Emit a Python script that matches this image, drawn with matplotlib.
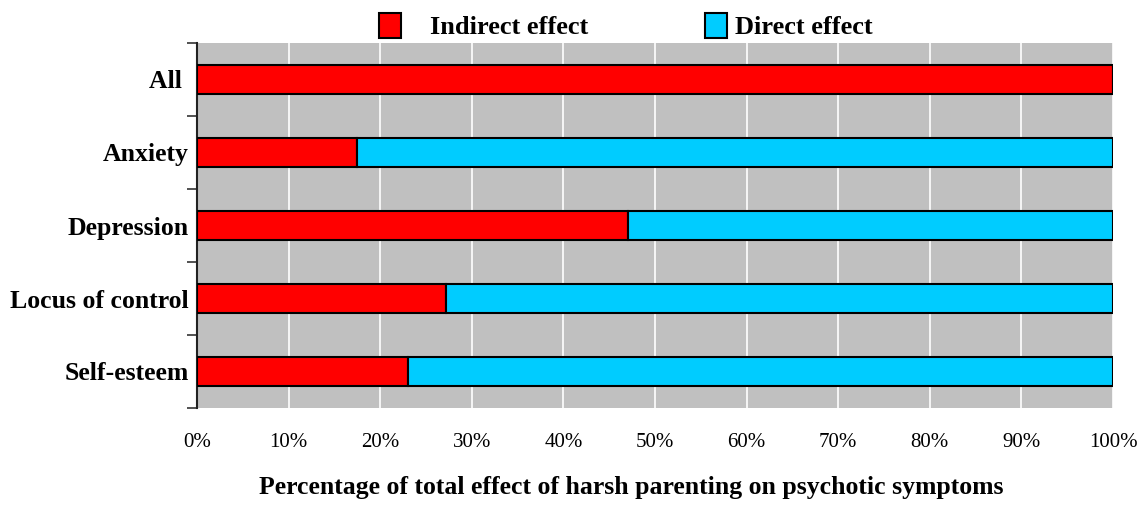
import numpy as np
import matplotlib.pyplot as plt
from matplotlib.patches import Rectangle
from matplotlib.ticker import FixedLocator

categories = ["All ", "Anxiety", "Depression", "Locus of control", "Self-esteem"]
indirect = [100, 17.5, 47, 27.2, 23]
direct = [0, 82.5, 53, 72.8, 77]
xticks = [0, 10, 20, 30, 40, 50, 60, 70, 80, 90, 100]
xticklabels = [f"{t}%" for t in xticks]

plt.rcParams['font.family'] = ['Liberation Serif', 'DejaVu Serif']

red = "#ff0000"
cyan = "#00ccff"

fig = plt.figure(figsize=(11.43, 5.05), dpi=100)
ax = fig.add_axes([197 / 1143, 1 - 408 / 505, 916 / 1143, 365 / 505])
ax.set_facecolor("#c0c0c0")

y = np.arange(len(categories))
ax.barh(y, indirect, height=0.39, color=red, edgecolor="black", linewidth=1.5, zorder=3)
ax.barh(y, direct, left=indirect, height=0.39, color=cyan, edgecolor="black",
        linewidth=1.5, zorder=3)

ax.set_xlim(0, 100)
ax.set_ylim(len(categories) - 0.5, -0.5)
ax.set_xticks(xticks)
ax.set_xticklabels(xticklabels, fontsize=15)
ax.tick_params(axis="x", length=0, pad=18)
ax.xaxis.grid(True, color="white", linewidth=1.2, zorder=0)

ax.yaxis.set_major_locator(FixedLocator(np.arange(len(categories) + 1) - 0.5))
ax.yaxis.set_major_formatter(plt.NullFormatter())
ax.yaxis.set_minor_locator(FixedLocator(y))
ax.set_yticklabels(categories, minor=True, fontsize=18.5, fontweight="bold")
ax.tick_params(axis="y", which="major", length=7, width=1.2, color="#333333")
ax.tick_params(axis="y", which="minor", length=0, pad=6)

for s in ["top", "right", "bottom"]:
    ax.spines[s].set_visible(False)
ax.spines["left"].set_linewidth(1.5)
ax.spines["left"].set_color("#222222")

ax.set_xlabel("Percentage of total effect of harsh parenting on psychotic symptoms",
              fontsize=18.5, fontweight="bold", labelpad=17)
ax.xaxis.label.set_x(0.474)

# legend drawn at the top
W, H = 1143, 505
for x0, col, tx, label in [(379, red, 430, "Indirect effect"),
                           (705, cyan, 735, "Direct effect")]:
    fig.patches.append(Rectangle((x0 / W, 1 - 38 / H), 22 / W, 25 / H,
                                 transform=fig.transFigure, facecolor=col,
                                 edgecolor="black", linewidth=1.5))
    fig.text(tx / W, 1 - 28 / H, label, fontsize=19, fontweight="bold",
             va="center", ha="left")

fig.savefig("out.png", dpi=100)
